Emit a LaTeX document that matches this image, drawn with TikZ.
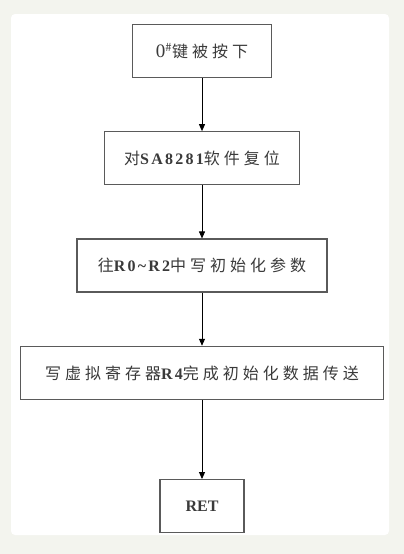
\documentclass[tikz,border=0pt]{standalone}
\usepackage{fontspec}
\usepackage{xcolor}
\usepackage{tikz}
\usetikzlibrary{positioning,arrows.meta}

\setmainfont{Liberation Serif}
\newfontfamily\cjk[LetterSpace=25]{Noto Sans CJK SC}
\newfontfamily\latsp[LetterSpace=14]{Liberation Serif}
\newcommand{\lat}[1]{{\latsp\bfseries #1}}

\definecolor{pagebg}{HTML}{F3F4EE}
\definecolor{boxgray}{HTML}{5A5A5A}
\definecolor{txtgray}{HTML}{3A3A3A}

\begin{document}
\begin{tikzpicture}[x=1pt,y=-1pt]

\tikzstyle{box}=[draw=boxgray, line width=1.3pt, minimum height=53pt, inner sep=0pt, text=txtgray, font=\cjk\fontsize{16}{19}\selectfont]
\tikzstyle{flow}=[-{Triangle[length=7pt,width=6pt]}, line width=0.9pt]

% background %
\fill[pagebg] (0,0) rectangle (404,554);
\fill[white, rounded corners=4pt] (11,14) rectangle (389,535);

% nodes %
\node[box, minimum width=139pt] (press) at (202,51) {{\rmfamily\fontsize{19}{19}\selectfont 0}\textsuperscript{\#}键被按下\hspace{5pt}};
\node[box, minimum width=195pt, below=53pt of press] (reset) {对\lat{SA8281}软件复位};
\node[box, minimum width=250pt, below=53pt of reset] (param) {往\lat{R0\textasciitilde R2}中写初始化参数};
\node[box, minimum width=363pt, below=53pt of param] (write) {写虚拟寄存器\lat{R4}完成初始化数据传送};
\node[box, minimum width=84pt, below=79pt of write] (ret) {{\rmfamily\bfseries RET}};

% edges %
\draw[flow] (press) -- (reset);
\draw[flow] (reset) -- (param);
\draw[flow] (param) -- (write);
\draw[flow] (write) -- (ret);

\end{tikzpicture}
\end{document}
